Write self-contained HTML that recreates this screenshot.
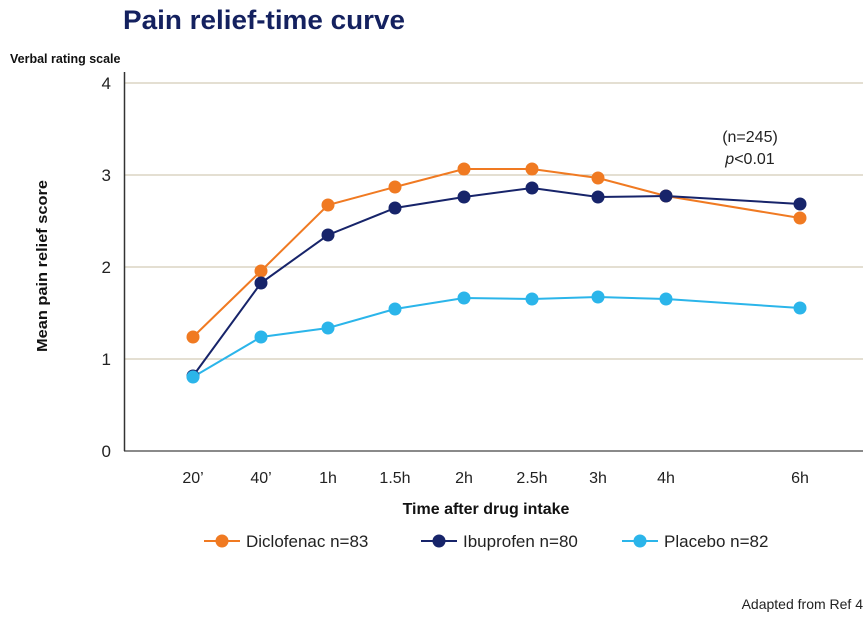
<!DOCTYPE html>
<html><head><style>
body{margin:0;background:#fff;width:868px;height:616px;overflow:hidden;font-family:"Liberation Sans",sans-serif}
</style></head><body>
<svg width="868" height="616" xmlns="http://www.w3.org/2000/svg" font-family="Liberation Sans, sans-serif">
<text x="123" y="29" font-size="27" font-weight="bold" fill="#14215f" textLength="282" lengthAdjust="spacingAndGlyphs">Pain relief-time curve</text>
<text x="10" y="63" font-size="12.5" font-weight="bold" fill="#111">Verbal rating scale</text>
<g stroke="#c9bfa6" stroke-width="1">
<line x1="124" y1="83" x2="863" y2="83"/><line x1="124" y1="175" x2="863" y2="175"/>
<line x1="124" y1="267" x2="863" y2="267"/><line x1="124" y1="359" x2="863" y2="359"/>
</g>
<line x1="124" y1="451" x2="863" y2="451" stroke="#444" stroke-width="1.2"/>
<line x1="124.5" y1="72" x2="124.5" y2="451" stroke="#333" stroke-width="1.5"/>
<g font-size="17" fill="#222" text-anchor="end">
<text x="111" y="89">4</text><text x="111" y="181">3</text><text x="111" y="273">2</text><text x="111" y="365">1</text><text x="111" y="457">0</text>
</g>
<g font-size="16" fill="#222" text-anchor="middle">
<text x="193" y="483">20’</text><text x="261" y="483">40’</text><text x="328" y="483">1h</text><text x="395" y="483">1.5h</text><text x="464" y="483">2h</text><text x="532" y="483">2.5h</text><text x="598" y="483">3h</text><text x="666" y="483">4h</text><text x="800" y="483">6h</text>
</g>
<text x="486" y="514" font-size="16" font-weight="bold" text-anchor="middle" fill="#111">Time after drug intake</text>
<text transform="translate(47,266) rotate(-90)" font-size="14.5" font-weight="bold" text-anchor="middle" fill="#111" textLength="172" lengthAdjust="spacingAndGlyphs">Mean pain relief score</text>
<text x="750" y="142" font-size="16" text-anchor="middle" fill="#222">(n=245)</text>
<text x="750" y="164" font-size="16" text-anchor="middle" fill="#222"><tspan font-style="italic">p</tspan>&lt;0.01</text>
<g fill="none" stroke-width="2">
<polyline stroke="#f07a22" points="193,337 261,271 328,205 395,187 464,169 532,169 598,178 666,196 800,218"/>
<polyline stroke="#17246a" points="193,376 261,283 328,235 395,208 464,197 532,188 598,197 666,196 800,204"/>
<polyline stroke="#2bb5ea" points="193,377 261,337 328,328 395,309 464,298 532,299 598,297 666,299 800,308"/>
</g>
<g fill="#f07a22"><circle cx="193" cy="337" r="6.5"/><circle cx="261" cy="271" r="6.5"/><circle cx="328" cy="205" r="6.5"/><circle cx="395" cy="187" r="6.5"/><circle cx="464" cy="169" r="6.5"/><circle cx="532" cy="169" r="6.5"/><circle cx="598" cy="178" r="6.5"/><circle cx="666" cy="196" r="6.5"/><circle cx="800" cy="218" r="6.5"/></g>
<g fill="#17246a"><circle cx="193" cy="376" r="6.5"/><circle cx="261" cy="283" r="6.5"/><circle cx="328" cy="235" r="6.5"/><circle cx="395" cy="208" r="6.5"/><circle cx="464" cy="197" r="6.5"/><circle cx="532" cy="188" r="6.5"/><circle cx="598" cy="197" r="6.5"/><circle cx="666" cy="196" r="6.5"/><circle cx="800" cy="204" r="6.5"/></g>
<g fill="#2bb5ea"><circle cx="193" cy="377" r="6.5"/><circle cx="261" cy="337" r="6.5"/><circle cx="328" cy="328" r="6.5"/><circle cx="395" cy="309" r="6.5"/><circle cx="464" cy="298" r="6.5"/><circle cx="532" cy="299" r="6.5"/><circle cx="598" cy="297" r="6.5"/><circle cx="666" cy="299" r="6.5"/><circle cx="800" cy="308" r="6.5"/></g>
<g stroke-width="2">
<line x1="204" y1="541" x2="240" y2="541" stroke="#f07a22"/><circle cx="222" cy="541" r="6.5" fill="#f07a22"/>
<line x1="421" y1="541" x2="457" y2="541" stroke="#17246a"/><circle cx="439" cy="541" r="6.5" fill="#17246a"/>
<line x1="622" y1="541" x2="658" y2="541" stroke="#2bb5ea"/><circle cx="640" cy="541" r="6.5" fill="#2bb5ea"/>
</g>
<g font-size="17" fill="#222">
<text x="246" y="547">Diclofenac n=83</text><text x="463" y="547">Ibuprofen n=80</text><text x="664" y="547">Placebo n=82</text>
</g>
<text x="863" y="609" font-size="14" text-anchor="end" fill="#222">Adapted from Ref 4</text>
</svg>
</body></html>
